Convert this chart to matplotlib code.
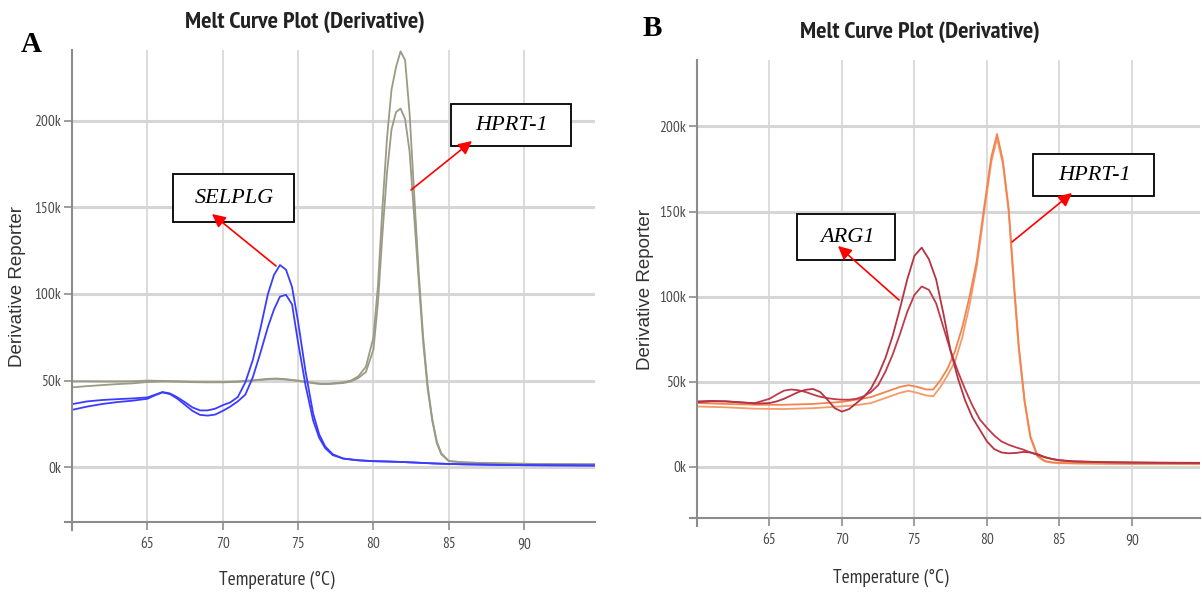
import matplotlib
matplotlib.use("Agg")
import matplotlib.pyplot as plt
from matplotlib import font_manager
from matplotlib.font_manager import FontProperties
from matplotlib.patches import Rectangle, FancyArrowPatch
from matplotlib.ticker import FuncFormatter

# ---------------- data (values in thousands of reporter units) ----------------
# Panel A: SELPLG (blue, two replicates)
temp_selplg = [60, 61, 62, 63, 64, 65, 65.5, 66, 66.5, 67, 67.5, 68, 68.5, 69, 69.5, 70,
               70.5, 71, 71.5, 72, 72.5, 73, 73.4, 73.8, 74.2, 74.6, 75, 75.5, 76, 76.4,
               76.8, 77.3, 78, 79, 80, 81, 82, 83, 84, 85, 86, 88, 90, 92, 94.7]
selplg_rep1 = [36.4, 38.0, 38.8, 39.3, 39.7, 40.3, 41.8, 43.4, 42.6, 40.3, 37.5, 34.5, 32.8, 32.8,
               33.8, 35.8, 37.4, 40.5, 49.0, 62.0, 80.0, 100.0, 111.0, 116.7, 114.0, 104.0, 84.0,
               55.0, 31.0, 19.0, 12.0, 7.5, 5.0, 4.0, 3.5, 3.3, 3.0, 2.6, 2.2, 1.9, 1.7, 1.4,
               1.2, 1.1, 1.0]
selplg_rep2 = [33.1, 35.0, 36.5, 37.6, 38.4, 39.5, 41.5, 43.2, 42.2, 39.5, 36.0, 32.5, 30.2, 29.8,
               30.4, 32.5, 35.0, 38.0, 41.9, 52.0, 66.0, 81.0, 91.0, 98.5, 99.5, 94.0, 72.0,
               47.0, 27.0, 17.0, 11.0, 7.0, 5.0, 4.0, 3.5, 3.3, 3.0, 2.6, 2.2, 1.9, 1.7, 1.4,
               1.2, 1.1, 1.0]

# Panel A: HPRT-1 (grey, two replicates)
temp_hprt_a = [60, 61, 62, 63, 64, 65, 66, 67, 68, 69, 70, 71, 72, 73, 73.5, 74, 75, 76, 76.5,
               77, 78, 78.5, 79, 79.5, 80, 80.3, 80.6, 80.9, 81.2, 81.5, 81.8, 82.1, 82.4, 82.7,
               83.0, 83.3, 83.6, 83.9, 84.2, 84.5, 85, 86, 87, 88, 90, 92, 94.7]
hprt_a_rep1 = [49.6, 49.6, 49.5, 49.5, 49.6, 50.0, 49.8, 49.6, 49.3, 49.2, 49.2, 49.5, 50.2,
               51.0, 51.2, 51.0, 50.0, 48.8, 48.2, 48.2, 49.0, 50.0, 52.5, 58.0, 75.0, 105.0,
               150.0, 190.0, 218.0, 231.0, 240.0, 235.0, 204.0, 158.0, 113.0, 75.0, 47.0,
               28.0, 15.0, 8.0, 3.6, 2.8, 2.5, 2.3, 2.0, 1.8, 1.7]
hprt_a_rep2 = [46.1, 46.8, 47.4, 48.0, 48.4, 49.2, 49.5, 49.4, 49.1, 49.0, 49.0, 49.3, 50.0,
               50.8, 51.0, 50.8, 49.8, 48.5, 48.0, 48.0, 48.6, 49.5, 51.5, 55.0, 68.0, 95.0,
               135.0, 170.0, 195.0, 205.0, 207.0, 201.0, 182.0, 145.0, 108.0, 72.0, 45.0,
               27.0, 14.0, 7.5, 3.5, 2.8, 2.5, 2.3, 2.0, 1.8, 1.7]

# Panel B: ARG1 (dark red, two replicates)
temp_arg1 = [60, 61, 62, 63, 64, 65, 65.5, 66, 66.5, 67, 67.5, 68, 68.5, 69, 69.5, 70, 70.5,
             71, 71.5, 72, 72.5, 73, 73.5, 74, 74.5, 75, 75.5, 76, 76.5, 77, 77.5, 78, 78.5,
             79, 79.5, 80, 80.5, 81, 81.5, 82, 82.5, 83, 83.5, 84, 84.5, 85, 86, 88, 90, 92,
             94.7]
arg1_rep1 = [38.5, 38.8, 38.5, 37.8, 37.5, 40.0, 42.5, 44.8, 45.5, 45.0, 44.0, 42.5, 41.2, 40.4,
             39.8, 39.5, 39.5, 40.0, 41.5, 44.0, 48.0, 56.0, 66.0, 78.0, 91.0, 101.0, 106.0,
             104.0, 96.0, 82.0, 68.0, 56.0, 45.5, 36.0, 28.0, 23.0, 18.5, 15.0, 13.0, 11.5,
             10.2, 8.5, 7.0, 5.6, 4.7, 4.0, 3.3, 2.8, 2.6, 2.4, 2.3]
arg1_rep2 = [38.0, 38.5, 38.5, 38.0, 37.2, 37.5, 38.5, 40.0, 42.0, 44.0, 45.3, 45.8, 44.0, 39.5,
             34.5, 32.5, 34.0, 37.5, 41.0, 46.0, 54.0, 64.0, 77.0, 93.0, 110.0, 124.0, 128.8,
             122.0, 110.0, 90.0, 68.0, 52.0, 39.0, 29.0, 22.0, 15.0, 10.5, 8.5, 8.0, 8.2, 8.8,
             8.5, 7.5, 5.8, 4.6, 3.8, 3.2, 2.8, 2.6, 2.5, 2.4]

# Panel B: HPRT-1 (orange, two replicates)
temp_hprt_b = [60, 62, 64, 66, 68, 70, 71, 72, 73, 73.5, 74, 74.6, 75.2, 75.8, 76.3, 76.8, 77.3,
               77.8, 78.3, 78.8, 79.3, 79.8, 80.3, 80.7, 81.1, 81.5, 81.9, 82.2, 82.6, 83.0,
               83.5, 84, 84.5, 85, 86, 88, 90, 92, 94.7]
hprt_b_rep1 = [37.5, 37.0, 36.5, 36.5, 37.0, 38.2, 39.5, 41.0, 44.0, 45.5, 47.0, 48.0, 47.0,
               45.5, 45.5, 51.0, 58.0, 68.0, 82.0, 100.0, 121.0, 152.0, 182.0, 195.5, 180.0,
               152.0, 104.0, 71.0, 39.0, 18.0, 6.5, 3.5, 2.7, 2.4, 2.2, 2.0, 1.9, 1.9, 1.8]
hprt_b_rep2 = [35.5, 35.0, 34.2, 34.0, 34.5, 35.6, 36.3, 37.5, 40.5, 42.0, 43.5, 44.7, 43.5,
               42.0, 41.5, 47.0, 54.0, 62.0, 76.0, 95.0, 118.0, 149.0, 179.0, 193.0, 178.0,
               150.0, 102.0, 69.0, 38.0, 17.0, 6.0, 3.2, 2.5, 2.2, 2.0, 1.9, 1.8, 1.8, 1.7]

x_ticks = [65, 70, 75, 80, 85, 90]
y_ticks_k = [0, 50, 100, 150, 200]


# ---------------- font selection ----------------
CONDENSED = ('condensed', 'semi-condensed', 'extra-condensed', 'ultra-condensed')


def pick_narrow(weight):
    flist = [f for f in font_manager.fontManager.ttflist
             if f.style == 'normal' and '[' not in f.fname]
    prefs = ['Liberation Sans Narrow', 'Arial Narrow', 'Archivo Narrow', 'PT Sans Narrow',
             'Roboto Condensed', 'IBM Plex Sans Condensed', 'Open Sans Condensed',
             'Fira Sans Condensed', 'Noto Sans', 'Open Sans', 'Roboto',
             'Sofia Sans Condensed', 'Barlow Semi Condensed', 'Encode Sans Condensed',
             'Asap Condensed', 'Barlow Condensed']
    for name in prefs:
        c = [f for f in flist if f.name == name and
             ('Narrow' in name or 'Condensed' in name or f.stretch in CONDENSED
              or 'ondensed' in f.fname)]
        if c:
            c.sort(key=lambda f: abs(int(f.weight) - weight) if str(f.weight).isdigit() else 500)
            return c[0].fname
    c = [f for f in flist if f.stretch in CONDENSED or 'Narrow' in f.name
         or 'Condensed' in f.name]
    if c:
        c.sort(key=lambda f: abs(int(f.weight) - weight) if str(f.weight).isdigit() else 500)
        return c[0].fname
    return None


narrow_reg = pick_narrow(400)
narrow_bold = pick_narrow(700)


def nfont(size, bold=False):
    path = narrow_bold if bold else narrow_reg
    if path:
        return FontProperties(fname=path, size=size)
    return FontProperties(family='DejaVu Sans', size=size,
                          weight='bold' if bold else 'normal')


SANS = ['Liberation Sans', 'DejaVu Sans']
SERIF = ['Liberation Serif', 'DejaVu Serif']

# ---------------- figure ----------------
W, H = 1202, 596
fig = plt.figure(figsize=(W / 100, H / 100), dpi=100)


def fx(px):
    return px / W


def fy(py):
    return 1 - py / H


def make_axes(left, top, right, bottom, ylim):
    ax = fig.add_axes([fx(left), fy(bottom), fx(right) - fx(left), fy(top) - fy(bottom)])
    xlim = (60, 94.7)
    ax.set_xlim(*xlim)
    ax.set_ylim(*ylim)
    for s in ('top', 'right'):
        ax.spines[s].set_visible(False)
    for s in ('left', 'bottom'):
        ax.spines[s].set_color('#8c8c8c')
        ax.spines[s].set_linewidth(1.5)
    # axis lines overshoot each other slightly at the corner, as in the reference
    ux = (xlim[1] - xlim[0]) / (right - left)
    uy = (ylim[1] - ylim[0]) / (bottom - top)
    ax.spines['bottom'].set_bounds(xlim[0] - 7 * ux, xlim[1])
    ax.spines['left'].set_bounds(ylim[0] - 8 * uy, ylim[1])
    ax.set_xticks(x_ticks)
    ax.set_yticks([v * 1000 for v in y_ticks_k])
    ax.yaxis.set_major_formatter(FuncFormatter(lambda v, p: f"{int(round(v / 1000))}k"))
    ax.tick_params(axis='both', colors='#8c8c8c', length=6, width=1.2, labelcolor='#4a4a4a')
    ax.tick_params(axis='x', pad=5)
    ax.tick_params(axis='y', pad=2)
    for lab in ax.get_xticklabels() + ax.get_yticklabels():
        lab.set_fontproperties(nfont(11))
    ax.grid(axis='x', color='#d6d6d6', lw=1.2)
    ax.grid(axis='y', color='#d6d6d6', lw=2.2)
    ax.set_axisbelow(True)
    return ax


axA = make_axes(72, 50, 595, 522, (-31600, 240800))
axB = make_axes(697, 60, 1200, 518, (-30000, 239000))

k = 1000.0
axA.plot(temp_hprt_a, [v * k for v in hprt_a_rep2], color='#9b9b85', lw=1.3)
axA.plot(temp_hprt_a, [v * k for v in hprt_a_rep1], color='#9b9b85', lw=1.3)
axA.plot(temp_selplg, [v * k for v in selplg_rep2], color='#3c3cff', lw=1.3)
axA.plot(temp_selplg, [v * k for v in selplg_rep1], color='#3c3cff', lw=1.3)

axB.plot(temp_hprt_b, [v * k for v in hprt_b_rep2], color='#f59a68', lw=1.3)
axB.plot(temp_hprt_b, [v * k for v in hprt_b_rep1], color='#f3844f', lw=1.3)
axB.plot(temp_arg1, [v * k for v in arg1_rep1], color='#c03a4a', lw=1.3)
axB.plot(temp_arg1, [v * k for v in arg1_rep2], color='#b53442', lw=1.3)

# ---------------- texts ----------------
for cx, cy in ((305, 22), (920, 32)):
    fig.text(fx(cx), fy(cy), 'Melt Curve Plot (Derivative)', ha='center', va='center',
             fontproperties=nfont(17.5, bold=True), color='#222222')
for cx, cy in ((277, 580), (891, 578)):
    fig.text(fx(cx), fy(cy), 'Temperature (°C)', ha='center', va='center',
             fontproperties=nfont(14), color='#333333')
for cx, cy in ((18, 287), (645, 290)):
    fig.text(fx(cx), fy(cy), 'Derivative Reporter', ha='center', va='center', rotation=90,
             family=SANS, fontsize=13.5, color='#333333')

fig.text(fx(31), fy(45), 'A', ha='center', va='center', family=SERIF, fontsize=21,
         weight='bold', color='black')
fig.text(fx(652), fy(29), 'B', ha='center', va='center', family=SERIF, fontsize=21,
         weight='bold', color='black')

# annotation boxes: (left, top, right, bottom, label)
boxes = [(173, 174, 294, 222, 'SELPLG'),
         (451, 104, 571, 146, 'HPRT-1'),
         (797, 214, 895, 260, 'ARG1'),
         (1033, 154, 1154, 196, 'HPRT-1')]
for l, t, r, b, lab in boxes:
    rect = Rectangle((fx(l), fy(b)), fx(r) - fx(l), fy(t) - fy(b), transform=fig.transFigure,
                     facecolor='white', edgecolor='black', lw=1.3, zorder=5)
    fig.add_artist(rect)
    fig.text(fx((l + r) / 2 + 1), fy((t + b) / 2 + 1), lab, ha='center', va='center',
             family=SERIF, style='italic', fontsize=16, color='black', zorder=6)

arrows = [((276, 266), (212, 214)),
          ((411, 190), (472, 141)),
          ((899, 300), (838, 246)),
          ((1012, 242), (1072, 193))]
for (tx, ty), (hx, hy) in arrows:
    arr = FancyArrowPatch((fx(tx), fy(ty)), (fx(hx), fy(hy)), transform=fig.transFigure,
                          arrowstyle='-|>', mutation_scale=20, color='#ff0000', lw=1.2,
                          shrinkA=0, shrinkB=0, zorder=7)
    fig.add_artist(arr)

fig.savefig('out.png', dpi=100)
